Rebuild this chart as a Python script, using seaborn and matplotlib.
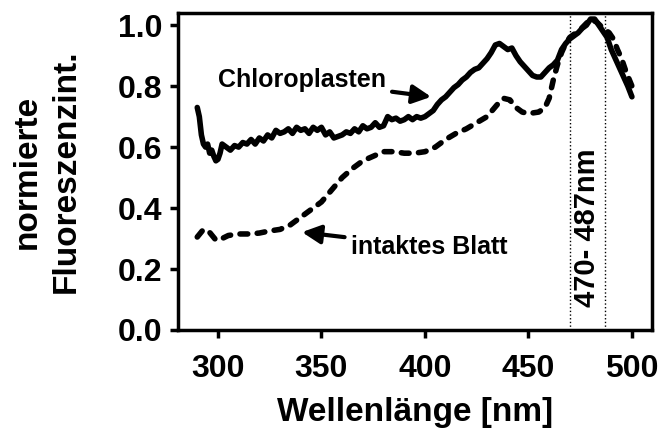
import numpy as np
import pandas as pd
import matplotlib
matplotlib.use("Agg")
from matplotlib import pyplot as plt
import seaborn as sns

# Chloroplasten (solid line)
wl_chl = [290, 291, 292, 293, 294, 295, 296, 297, 298, 299, 300, 301, 302,
          304, 306, 308, 310, 312, 314, 316, 318, 320, 322, 324, 326, 328,
          330, 332, 334, 336, 338, 340, 342, 344, 346, 348, 350, 352, 354,
          356, 358, 360, 362, 364, 366, 368, 370, 372, 374, 376, 378, 380,
          382, 384, 386, 388, 390, 392, 394, 396, 398, 400, 402, 404, 406,
          408, 410, 412, 414, 416, 418, 420, 422, 424, 426, 428, 430, 432,
          434, 436, 438, 440, 442, 444, 446, 448, 450, 452, 454, 456, 458,
          460, 462, 464, 466, 468, 470, 472, 474, 476, 478, 480, 482, 484,
          486, 488, 490, 492, 494, 496, 498, 500]
val_chl = [0.73, 0.70, 0.64, 0.61, 0.60, 0.61, 0.58, 0.59, 0.57, 0.555, 0.56, 0.58, 0.61,
           0.60, 0.59, 0.605, 0.60, 0.615, 0.61, 0.625, 0.61, 0.63, 0.62, 0.64, 0.63, 0.655,
           0.645, 0.65, 0.66, 0.645, 0.665, 0.655, 0.66, 0.645, 0.665, 0.655, 0.665, 0.64, 0.65,
           0.63, 0.635, 0.64, 0.65, 0.645, 0.66, 0.65, 0.67, 0.66, 0.665, 0.68, 0.665, 0.67,
           0.70, 0.69, 0.695, 0.685, 0.69, 0.70, 0.69, 0.70, 0.695, 0.70, 0.71, 0.72, 0.74,
           0.755, 0.765, 0.78, 0.795, 0.805, 0.82, 0.83, 0.845, 0.855, 0.86, 0.875, 0.89, 0.91,
           0.935, 0.94, 0.93, 0.92, 0.925, 0.90, 0.88, 0.865, 0.85, 0.835, 0.83, 0.83, 0.845,
           0.86, 0.87, 0.885, 0.92, 0.94, 0.955, 0.965, 0.975, 0.99, 1.00, 1.02, 1.02, 1.00,
           0.98, 0.96, 0.92, 0.89, 0.86, 0.83, 0.80, 0.765]

# intaktes Blatt (dashed line)
wl_blatt = [290, 293, 296, 299, 302, 305, 310, 315, 320, 325, 330, 335, 340, 345,
            350, 355, 360, 365, 370, 375, 380, 385, 390, 395, 400, 405, 410, 415,
            420, 425, 430, 435, 438, 441, 444, 447, 450, 455, 458, 460, 462, 464,
            466, 468, 470, 475, 480, 483, 486, 489, 491, 493, 495, 497, 500]
val_blatt = [0.305, 0.33, 0.32, 0.295, 0.30, 0.31, 0.315, 0.315, 0.318, 0.325, 0.33, 0.345, 0.37, 0.395,
             0.42, 0.46, 0.50, 0.53, 0.555, 0.57, 0.585, 0.585, 0.58, 0.58, 0.585, 0.60, 0.625, 0.645,
             0.66, 0.68, 0.70, 0.74, 0.76, 0.755, 0.73, 0.715, 0.71, 0.715, 0.73, 0.76, 0.82, 0.87,
             0.91, 0.94, 0.96, 0.985, 1.02, 1.01, 0.99, 0.975, 0.955, 0.92, 0.89, 0.85, 0.80]

band = [470, 487]
x_ticks = [300, 350, 400, 450, 500]
y_ticks = [0.0, 0.2, 0.4, 0.6, 0.8, 1.0]

sns.set_style("ticks")
plt.rcParams['font.family'] = ['Liberation Sans', 'DejaVu Sans']
plt.rcParams['font.weight'] = 'bold'
for key in ['text.color', 'axes.labelcolor', 'xtick.color', 'ytick.color',
            'axes.edgecolor']:
    plt.rcParams[key] = 'black'

fig = plt.figure(figsize=(6.6, 4.3), dpi=100)
ax = fig.add_axes([0.2697, 0.2326, 0.7182, 0.7372])

chl = pd.DataFrame({'wl': wl_chl, 'val': val_chl})
blatt = pd.DataFrame({'wl': wl_blatt, 'val': val_blatt})

sns.lineplot(data=chl, x='wl', y='val', ax=ax, color='black', lw=4.0,
             solid_capstyle='round', solid_joinstyle='round')
sns.lineplot(data=blatt, x='wl', y='val', ax=ax, color='black', lw=4.0,
             linestyle=(0, (1.4, 1.7)), dash_capstyle='round')

for b in band:
    ax.axvline(b, color='black', lw=1, linestyle=':')
ax.text(sum(band) / 2, 0.334, '470- 487nm', rotation=90, ha='center', va='center',
        fontsize=21, fontweight='bold')

ax.annotate('Chloroplasten', xy=(403, 0.765), xytext=(340.6, 0.82),
            ha='center', va='center', fontsize=18, fontweight='bold',
            arrowprops=dict(arrowstyle='-|>', lw=3, color='black', mutation_scale=28,
                            shrinkA=2, shrinkB=0))
ax.annotate('intaktes Blatt', xy=(340.6, 0.321), xytext=(401.9, 0.272),
            ha='center', va='center', fontsize=18, fontweight='bold',
            arrowprops=dict(arrowstyle='-|>', lw=3, color='black', mutation_scale=28,
                            shrinkA=2, shrinkB=0))

ax.set_xlim(280.7, 509.7)
ax.set_ylim(0, 1.04)
ax.set_xticks(x_ticks)
ax.set_yticks(y_ticks)
ax.set_yticklabels([f'{v:.1f}' for v in y_ticks])
ax.tick_params(axis='both', labelsize=23, width=2.5, length=6, direction='out', pad=5)
ax.tick_params(axis='x', pad=11)
for lbl in ax.get_xticklabels() + ax.get_yticklabels():
    lbl.set_fontweight('bold')
for sp in ax.spines.values():
    sp.set_linewidth(2.5)
    sp.set_visible(True)

ax.set_xlabel('Wellenlänge [nm]', fontsize=24, fontweight='bold', labelpad=10)
ax.set_ylabel('normierte\nFluoreszenzint.', fontsize=24, fontweight='bold',
              labelpad=26, linespacing=1.35)

fig.savefig('out.png', dpi=100)
